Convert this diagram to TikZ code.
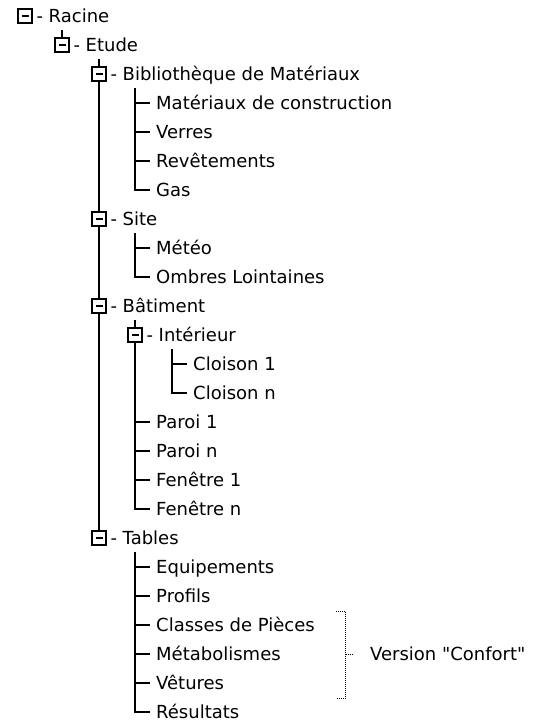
\documentclass[tikz,border=0pt]{standalone}
\usepackage{fontspec}
\setmainfont{DejaVu Sans}
\newfontfamily\plainquote{DejaVu Sans}[Ligatures=NoCommon]
\begin{document}
\def\R#1{{16+29*#1}}
\begin{tikzpicture}[x=1pt,y=-1pt,
  treeline/.style={line width=2pt, draw=black},
  tbox/.style={draw=black, fill=white, line width=1.6pt, minimum size=14pt, inner sep=0pt,
    path picture={\draw[line width=1.6pt] ([xshift=3.5pt]path picture bounding box.west) -- ([xshift=-3.5pt]path picture bounding box.east);}},
  txt/.style={font=\fontsize{18}{20}\selectfont, text height=13pt, text depth=0pt, inner ysep=0pt, anchor=west},
  blabel/.style={txt, inner xsep=3.5pt},
  leaf/.style={txt, inner xsep=6pt},
  dotline/.style={line width=1pt, dash pattern=on 1pt off 1pt, draw=black}
]
\useasboundingbox (0,0) rectangle (542,722);

% ---- boxes (expandable nodes)
\node[tbox] (racine) at (25,\R{0}) {};
\node[blabel] (racineL) at (racine.east) {- Racine};
\node[tbox] (etude) at (62,\R{1}) {};
\node[blabel] (etudeL) at (etude.east) {- Etude};
\node[tbox] (biblio) at (99,\R{2}) {};
\node[blabel] (biblioL) at (biblio.east) {- Bibliothèque de Matériaux};
\node[tbox] (site) at (99,\R{7}) {};
\node[blabel] (siteL) at (site.east) {- Site};
\node[tbox] (bat) at (99,\R{10}) {};
\node[blabel] (batL) at (bat.east) {- Bâtiment};
\node[tbox] (int) at (135,\R{11}) {};
\node[blabel] (intL) at (int.east) {- Intérieur};
\node[tbox] (tables) at (99,\R{18}) {};
\node[blabel] (tablesL) at (tables.east) {- Tables};

% ---- leaves
\node[leaf] (mat) at (150,\R{3}) {Matériaux de construction};
\node[leaf] (verres) at (150,\R{4}) {Verres};
\node[leaf] (rev) at (150,\R{5}) {Revêtements};
\node[leaf] (gas) at (150,\R{6}) {Gas};
\node[leaf] (meteo) at (150,\R{8}) {Météo};
\node[leaf] (ombres) at (150,\R{9}) {Ombres Lointaines};
\node[leaf] (cl1) at (187,\R{12}) {Cloison 1};
\node[leaf] (cln) at (187,\R{13}) {Cloison n};
\node[leaf] (par1) at (150,\R{14}) {Paroi 1};
\node[leaf] (parn) at (150,\R{15}) {Paroi n};
\node[leaf] (fen1) at (150,\R{16}) {Fenêtre 1};
\node[leaf] (fenn) at (150,\R{17}) {Fenêtre n};
\node[leaf] (equip) at (150,\R{19}) {Equipements};
\node[leaf] (prof) at (150,\R{20}) {Profils};
\node[leaf] (classes) at (150,\R{21}) {Classes de Pièces};
\node[leaf] (metab) at (150,\R{22}) {Métabolismes};
\node[leaf] (vet) at (150,\R{23}) {Vêtures};
\node[leaf] (res) at (150,\R{24}) {Résultats};

% ---- connector start points
\coordinate (etudeT) at (62,{16+29*1-15});
\coordinate (biblioT) at (99,{16+29*2-15});
\coordinate (intT) at (135,{16+29*11-15});
\coordinate (bibC) at (135,{16+29*2+14});
\coordinate (siteC) at (135,{16+29*7+14});
\coordinate (cloC) at (172,{16+29*11+14});
\coordinate (tabC) at (135,{16+29*18+14});

% ---- connectors
\draw[treeline] (etudeT) -- (etude.north);
\draw[treeline] (biblioT) -- (biblio.north);
\draw[treeline] (intT) -- (int.north);
\draw[treeline] (biblio.south) -- (site.north);
\draw[treeline] (site.south) -- (bat.north);
\draw[treeline] (bat.south) -- (tables.north);

\draw[treeline] (bibC) |- (gas.west);
\draw[treeline] (mat.west -| bibC) -- (mat.west);
\draw[treeline] (verres.west -| bibC) -- (verres.west);
\draw[treeline] (rev.west -| bibC) -- (rev.west);

\draw[treeline] (siteC) |- (ombres.west);
\draw[treeline] (meteo.west -| siteC) -- (meteo.west);

\draw[treeline] (cloC) |- (cln.west);
\draw[treeline] (cl1.west -| cloC) -- (cl1.west);

\draw[treeline] (int.south) |- (fenn.west);
\draw[treeline] (par1.west -| int.south) -- (par1.west);
\draw[treeline] (parn.west -| int.south) -- (parn.west);
\draw[treeline] (fen1.west -| int.south) -- (fen1.west);

\draw[treeline] (tabC) |- (res.west);
\draw[treeline] (equip.west -| tabC) -- (equip.west);
\draw[treeline] (prof.west -| tabC) -- (prof.west);
\draw[treeline] (classes.west -| tabC) -- (classes.west);
\draw[treeline] (metab.west -| tabC) -- (metab.west);
\draw[treeline] (vet.west -| tabC) -- (vet.west);

% ---- dotted bracket
\node[txt, inner xsep=0pt] (conf) at (370,\R{22}) {\plainquote Version "Confort"};
\coordinate (brTL) at (336,{16+29*21-14});
\coordinate (brTR) at (345.5,{16+29*21-14});
\coordinate (brBR) at (345.5,{16+29*23+15});
\coordinate (brBL) at (336,{16+29*23+15});
\coordinate (brM) at (345.5,\R{22});
\coordinate (brMe) at (353,\R{22});
\draw[dotline] (brTL) -- (brTR) -- (brBR) -- (brBL);
\draw[dotline] (brM) -- (brMe);
\end{tikzpicture}
\end{document}
